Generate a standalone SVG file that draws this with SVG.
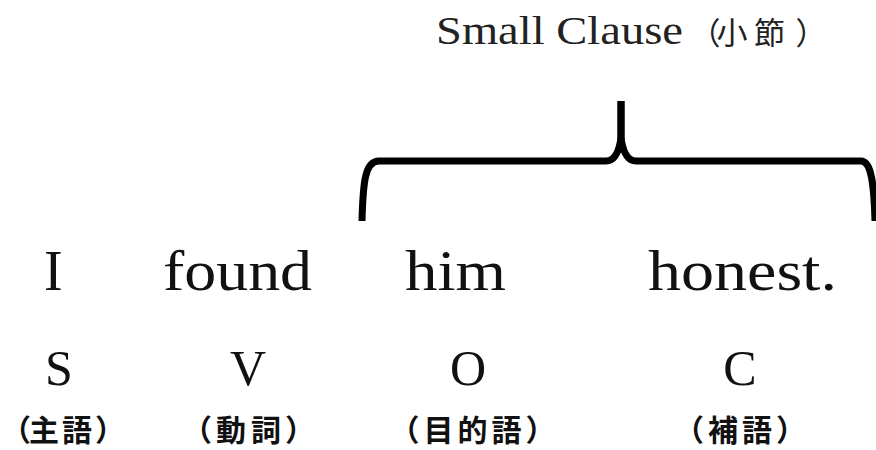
<svg xmlns="http://www.w3.org/2000/svg" width="876" height="450" viewBox="0 0 876 450">
  <style>
    .word { font-family: "Liberation Serif", "Times New Roman", serif; font-size: 56px; fill: #111; }
    .role { font-family: "Liberation Serif", "Times New Roman", serif; font-size: 50px; fill: #111; text-anchor: middle; }
    .title { font-family: "Liberation Serif", "Times New Roman", serif; font-size: 39px; fill: #222; }
    .titlecjk { font-family: "Noto Sans CJK JP", "Noto Sans CJK SC", sans-serif; font-size: 31px; font-weight: 400; fill: #222; text-anchor: middle; }
    .label { font-family: "Noto Sans CJK JP", "Noto Sans CJK SC", sans-serif; font-size: 30px; font-weight: 700; fill: #111; text-anchor: middle; }
    .brace { fill: none; stroke: #000; stroke-width: 7; stroke-linecap: butt; stroke-linejoin: round; }
  </style>
  <rect width="876" height="450" fill="#fff"/>

  <g id="connectors">
    <path class="brace" d="M362,221 C363,182 365,161 379,161 L606,161 C615,161 619,152 621,138 L621,101"/>
    <path class="brace" d="M621,101 L621,138 C623,152 627,161 636,161 L861,161 C871,161 874,182 875,221"/>
  </g>

  <g id="title">
    <text class="title" x="436" y="44" textLength="247" lengthAdjust="spacingAndGlyphs">Small Clause</text>
    <text class="titlecjk" x="705 732 769.5 811" y="44">（小節）</text>
  </g>

  <g id="node-subject">
    <text class="word" x="44" y="290">I</text>
    <text class="role" x="59" y="385">S</text>
    <text class="label" x="16 44 77 110" y="441">（主語）</text>
  </g>

  <g id="node-verb">
    <text class="word" x="163" y="290" textLength="149" lengthAdjust="spacingAndGlyphs">found</text>
    <text class="role" x="248" y="385">V</text>
    <text class="label" x="197 231 266 300" y="441">（動詞）</text>
  </g>

  <g id="node-object">
    <text class="word" x="405" y="290" textLength="101" lengthAdjust="spacingAndGlyphs">him</text>
    <text class="role" x="468" y="385">O</text>
    <text class="label" x="404.5 438.5 472.5 506.5 540.5" y="441">（目的語）</text>
  </g>

  <g id="node-complement">
    <text class="word" x="648" y="290" textLength="189" lengthAdjust="spacingAndGlyphs">honest.</text>
    <text class="role" x="740" y="385">C</text>
    <text class="label" x="689 723 757 791" y="441">（補語）</text>
  </g>
</svg>
